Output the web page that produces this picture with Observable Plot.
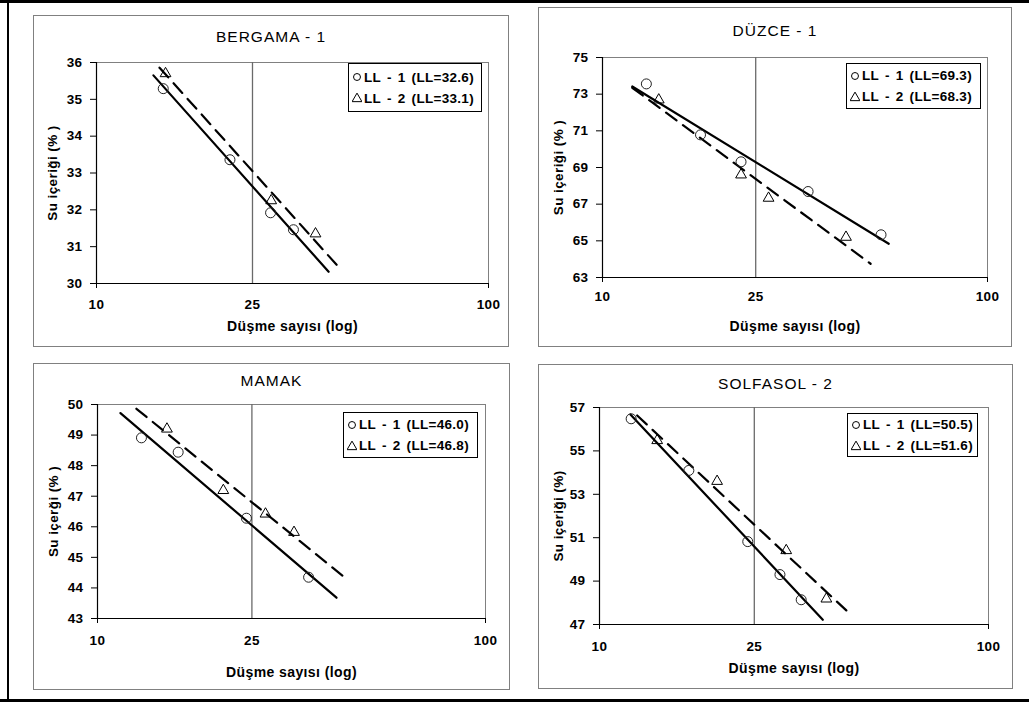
<!DOCTYPE html>
<html>
<head>
<meta charset="utf-8">
<script src="https://cdn.jsdelivr.net/npm/d3@7"></script>
<script src="https://cdn.jsdelivr.net/npm/@observablehq/plot@0.6"></script>
<style>
  html, body { margin: 0; padding: 0; background: #fff; }
  #root { position: relative; width: 1029px; height: 713px; overflow: hidden; background: #fff;
          font-family: "Liberation Sans", Arial, sans-serif; }
  .bar { position: absolute; background: #000; }
  .panel { position: absolute; outline: 1px solid #808080; outline-offset: -1px; background: #fff; }
  .panel svg { display: block; }
  .panel svg text { letter-spacing: 0.4px; }
  .ptitle { position: absolute; left: 0; right: 0; text-align: center; font-size: 15.5px;
            letter-spacing: 1px; color: #000; line-height: 1; transform: translateY(-50%); }
  .legend { position: absolute; border: 1px solid #000; background: #fff; box-sizing: border-box;
            display: flex; flex-direction: column; justify-content: center; padding-left: 3px; }
  .legend .row { display: flex; align-items: center; height: 21px; font-size: 13.5px; font-weight: bold;
                 letter-spacing: 0.3px; word-spacing: 2px; white-space: pre; }
  .legend svg { margin-right: 2px; }
</style>
</head>
<body>
<div id="root"></div>
<script>
// ---------- data ----------
const panelTitles = ["BERGAMA - 1", "DÜZCE - 1", "MAMAK", "SOLFASOL - 2"];
const yTitles = ["Su içeriği (% )", "Su içeriği (% )", "Su içerği (% )", "Su içeriği (%)"];
const xTitle = "Düşme sayısı (log)";
const xTickValues = [10, 25, 100];
const ll1Values = ["32.6", "69.3", "46.0", "50.5"];
const ll2Values = ["33.1", "68.3", "46.8", "51.6"];

// BERGAMA - 1
const bergamaLL1X = [14.8, 21.9, 27.8, 31.8];
const bergamaLL1Y = [35.29, 33.36, 31.92, 31.46];
const bergamaLL2X = [15.0, 27.9, 36.2];
const bergamaLL2Y = [35.7, 32.25, 31.35];
const bergamaFit1X = [13.97, 39.1];
const bergamaFit1Y = [35.65, 30.32];
const bergamaFit2X = [14.48, 41.2];
const bergamaFit2Y = [35.86, 30.48];
const bergamaYTicks = [30, 31, 32, 33, 34, 35, 36];

// DÜZCE - 1
const duzceLL1X = [13.0, 17.97, 22.9, 34.2, 52.9];
const duzceLL1Y = [73.56, 70.78, 69.31, 67.69, 65.33];
const duzceLL2X = [14.0, 22.9, 27.0, 42.9];
const duzceLL2Y = [72.69, 68.6, 67.33, 65.2];
const duzceFit1X = [11.95, 55.4];
const duzceFit1Y = [73.42, 64.84];
const duzceFit2X = [11.95, 49.7];
const duzceFit2Y = [73.35, 63.75];
const duzceYTicks = [63, 65, 67, 69, 71, 73, 75];

// MAMAK
const mamakLL1X = [12.98, 16.14, 24.2, 35.0];
const mamakLL1Y = [48.91, 48.44, 46.28, 44.35];
const mamakLL2X = [15.1, 21.1, 27.1, 32.1];
const mamakLL2Y = [49.2, 47.19, 46.42, 45.82];
const mamakFit1X = [11.46, 41.3];
const mamakFit1Y = [49.72, 43.68];
const mamakFit2X = [12.6, 43.3];
const mamakFit2Y = [49.86, 44.35];
const mamakYTicks = [43, 44, 45, 46, 47, 48, 49, 50];

// SOLFASOL - 2
const solfasolLL1X = [12.06, 16.97, 24.05, 29.1, 33.0];
const solfasolLL1Y = [56.48, 54.1, 50.82, 49.3, 48.14];
const solfasolLL2X = [14.07, 20.06, 30.2, 38.3];
const solfasolLL2Y = [55.48, 53.6, 50.41, 48.18];
const solfasolFit1X = [12.01, 37.5];
const solfasolFit1Y = [56.68, 47.22];
const solfasolFit2X = [12.5, 43.1];
const solfasolFit2Y = [56.63, 47.65];
const solfasolYTicks = [47, 49, 51, 53, 55, 57];

// ---------- helpers ----------
const zip = (xs, ys) => xs.map((x, i) => ({x, y: ys[i]}));

const panels = [
  {box: [33, 15, 476, 332], m: [47, 21, 64, 63], ticks: bergamaYTicks,
   ll1: zip(bergamaLL1X, bergamaLL1Y), ll2: zip(bergamaLL2X, bergamaLL2Y),
   fit1: zip(bergamaFit1X, bergamaFit1Y), fit2: zip(bergamaFit2X, bergamaFit2Y),
   tickPad: 16, xTitleDy: 43, yTitleDx: -44, titleY: 22, legend: [348, 63, 134, 49]},
  {box: [538, 7, 474, 340], m: [50, 25, 70, 64], ticks: duzceYTicks,
   ll1: zip(duzceLL1X, duzceLL1Y), ll2: zip(duzceLL2X, duzceLL2Y),
   fit1: zip(duzceFit1X, duzceFit1Y), fit2: zip(duzceFit2X, duzceFit2Y),
   tickPad: 13.5, xTitleDy: 49.5, yTitleDx: -44, titleY: 24, legend: [846, 63, 135, 46]},
  {box: [33, 363, 477, 327], m: [41, 25, 72, 64], ticks: mamakYTicks,
   ll1: zip(mamakLL1X, mamakLL1Y), ll2: zip(mamakLL2X, mamakLL2Y),
   fit1: zip(mamakFit1X, mamakFit1Y), fit2: zip(mamakFit2X, mamakFit2Y),
   tickPad: 16.5, xTitleDy: 54.5, yTitleDx: -44, titleY: 18, legend: [343, 412, 135, 46]},
  {box: [538, 364, 475, 325], m: [43, 25, 65, 61], ticks: solfasolYTicks,
   ll1: zip(solfasolLL1X, solfasolLL1Y), ll2: zip(solfasolLL2X, solfasolLL2Y),
   fit1: zip(solfasolFit1X, solfasolFit1Y), fit2: zip(solfasolFit2X, solfasolFit2Y),
   tickPad: 16.5, xTitleDy: 44, yTitleDx: -41, titleY: 19.5, legend: [847, 413, 131, 44]}
];

const root = document.getElementById("root");

// outer frame lines
function bar(l, t, w, h) {
  const d = document.createElement("div");
  d.className = "bar";
  Object.assign(d.style, {left: l + "px", top: t + "px", width: w + "px", height: h + "px"});
  root.appendChild(d);
}
bar(0, 0, 1029, 3);
bar(7, 0, 2, 702);
bar(0, 699, 1029, 3);

function symbolSvg(kind) {
  const ns = "http://www.w3.org/2000/svg";
  const s = document.createElementNS(ns, "svg");
  s.setAttribute("width", 10); s.setAttribute("height", 10);
  const p = document.createElementNS(ns, "path");
  p.setAttribute("d", d3.symbol(kind === "circle" ? d3.symbolCircle : d3.symbolTriangle, kind === "circle" ? 38 : 42)());
  p.setAttribute("transform", kind === "circle" ? "translate(5,5)" : "translate(5,5.8)");
  p.setAttribute("fill", "none");
  p.setAttribute("stroke", "#000");
  p.setAttribute("stroke-width", "1");
  s.appendChild(p);
  return s;
}

panels.forEach((p, i) => {
  const [L, T, W, H] = p.box;
  const [mT, mR, mB, mL] = p.m;
  const yDomain = [p.ticks[0], p.ticks[p.ticks.length - 1]];

  const div = document.createElement("div");
  div.className = "panel";
  Object.assign(div.style, {left: L + "px", top: T + "px", width: W + "px", height: H + "px"});

  const chart = Plot.plot({
    width: W, height: H,
    marginTop: mT, marginRight: mR, marginBottom: mB, marginLeft: mL,
    x: {type: "log", domain: [10, 100]},
    y: {domain: yDomain},
    style: {fontFamily: "'Liberation Sans', Arial, sans-serif", fontSize: "13.5px", fontWeight: "bold",
            background: "transparent", color: "#000", overflow: "visible"},
    marks: [
      Plot.frame({stroke: "#808080", strokeWidth: 1}),
      Plot.ruleX([25], {stroke: "#6a6a6a", strokeWidth: 1.3}),
      Plot.ruleX([10], {stroke: "#000", strokeWidth: 1.2}),
      Plot.ruleY([yDomain[0]], {stroke: "#000", strokeWidth: 1.2}),
      Plot.axisY({ticks: p.ticks, tickSize: 6, tickPadding: 8, label: null, tickFormat: d => String(d)}),
      Plot.axisX({ticks: [10, 100], tickSize: 5, tickFormat: () => "", label: null}),
      Plot.axisX({ticks: xTickValues, tickSize: 0, tickPadding: p.tickPad, label: null, tickFormat: d => String(d)}),
      Plot.text([xTitle], {text: d => d, frameAnchor: "bottom", dy: p.xTitleDy, lineAnchor: "middle",
                           textAnchor: "middle", fontSize: 14}),
      Plot.text([yTitles[i]], {text: d => d, frameAnchor: "left", rotate: -90, dx: p.yTitleDx,
                               lineAnchor: "middle", textAnchor: "middle", fontSize: 13.5}),
      Plot.line(p.fit1, {x: "x", y: "y", stroke: "#000", strokeWidth: 2.2}),
      Plot.line(p.fit2, {x: "x", y: "y", stroke: "#000", strokeWidth: 2.2, strokeDasharray: "13,8"}),
      Plot.dot(p.ll1, {x: "x", y: "y", r: 5, stroke: "#222", strokeWidth: 1, fill: "none"}),
      Plot.dot(p.ll2, {x: "x", y: "y", r: 4, symbol: "triangle", stroke: "#000", strokeWidth: 1, fill: "none"})
    ]
  });
  div.appendChild(chart);

  const t = document.createElement("div");
  t.className = "ptitle";
  t.style.top = p.titleY + "px";
  t.textContent = panelTitles[i];
  div.appendChild(t);
  root.appendChild(div);

  const [lx, ly, lw, lh] = p.legend;
  const lg = document.createElement("div");
  lg.className = "legend";
  Object.assign(lg.style, {left: lx + "px", top: ly + "px", width: lw + "px", height: lh + "px"});
  [["circle", "LL - 1 (LL=" + ll1Values[i] + ")"], ["triangle", "LL - 2 (LL=" + ll2Values[i] + ")"]].forEach(([k, txt]) => {
    const row = document.createElement("div");
    row.className = "row";
    row.appendChild(symbolSvg(k));
    const span = document.createElement("span");
    span.textContent = txt;
    row.appendChild(span);
    lg.appendChild(row);
  });
  root.appendChild(lg);
});
</script>
</body>
</html>
